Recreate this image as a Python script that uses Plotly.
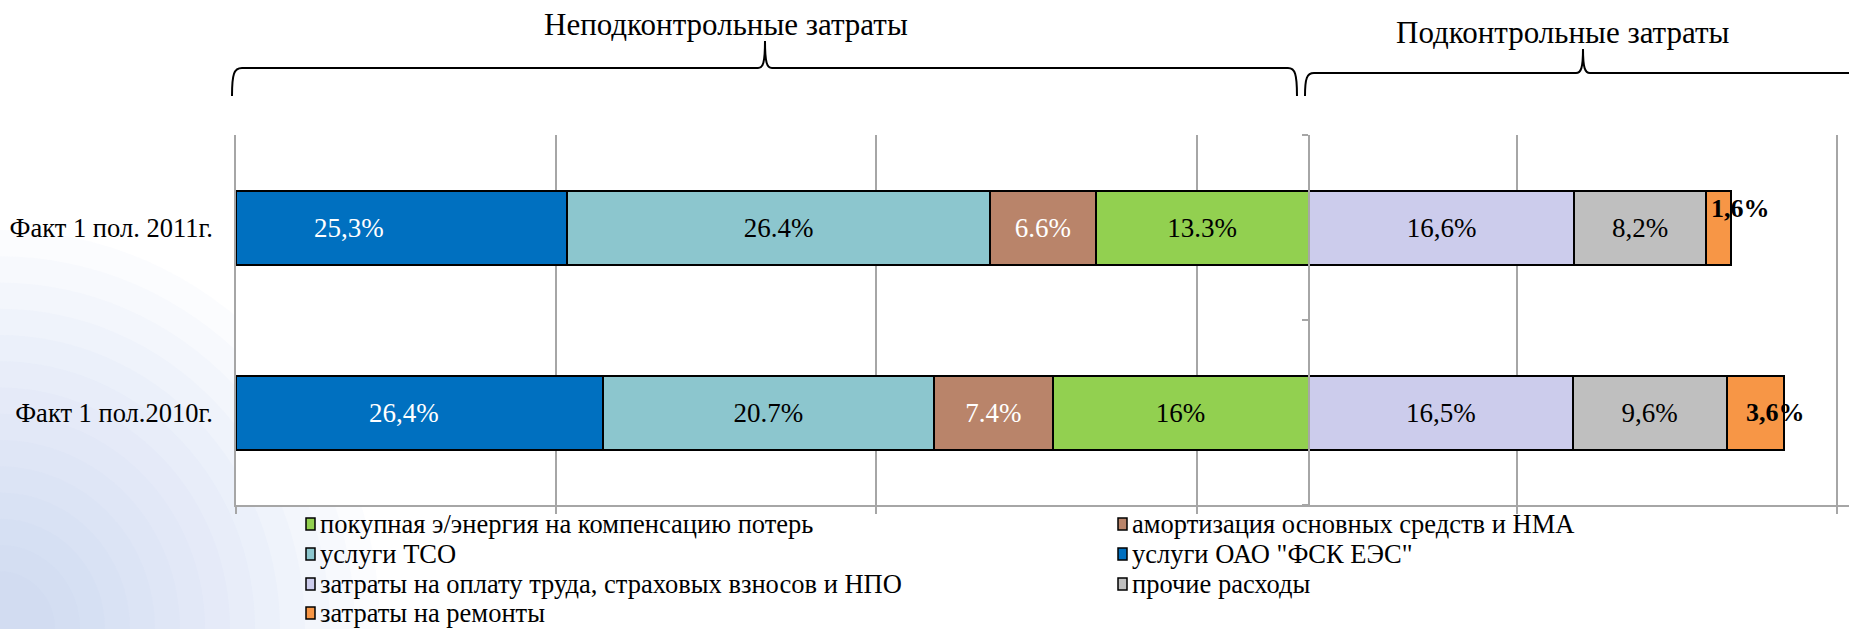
import plotly.graph_objects as go

# ---------------- data ----------------
categories = ["Факт 1 пол.2010г.", "Факт 1 пол. 2011г."]

fsk_name = 'услуги ОАО "ФСК ЕЭС"'
fsk_values = [22.9, 20.7]
fsk_labels = ["26,4%", "25,3%"]

tso_name = "услуги ТСО"
tso_values = [20.7, 26.4]
tso_labels = ["20.7%", "26.4%"]

amort_name = "амортизация основных средств и НМА"
amort_values = [7.4, 6.6]
amort_labels = ["7.4%", "6.6%"]

energy_name = "покупная э/энергия на компенсацию потерь"
energy_values = [16.0, 13.3]
energy_labels = ["16%", "13.3%"]

labor_name = "затраты на оплату труда, страховых взносов и НПО"
labor_values = [16.5, 16.6]
labor_labels = ["16,5%", "16,6%"]

other_name = "прочие расходы"
other_values = [9.6, 8.2]
other_labels = ["9,6%", "8,2%"]

repair_name = "затраты на ремонты"
repair_values = [3.6, 1.6]
repair_labels = ["3,6%", "1,6%"]

group_titles = ["Неподконтрольные затраты", "Подконтрольные затраты"]

# ---------------- layout constants ----------------
W, H = 1849, 629
PL, PR, PT, PB = 236, 1849, 135, 505
X_MAX = 100.75
FONT = "Liberation Serif"
GRID = "#A6A6A6"


def px(x):
    return (x - PL) / (PR - PL)


def py(y):
    return (PB - y) / (PB - PT)


fig = go.Figure()

colors = {
    fsk_name: "#0070C0", tso_name: "#8CC6CE", amort_name: "#B9846A",
    energy_name: "#92D050", labor_name: "#CCCCEC", other_name: "#BFBFBF",
    repair_name: "#F79646",
}
series = [
    (fsk_name, fsk_values, fsk_labels, "white"),
    (tso_name, tso_values, tso_labels, "black"),
    (amort_name, amort_values, amort_labels, "white"),
    (energy_name, energy_values, energy_labels, "black"),
    (labor_name, labor_values, labor_labels, "black"),
    (other_name, other_values, other_labels, "black"),
    (repair_name, repair_values, repair_labels, "black"),
]

for name, vals, labels, tcolor in series:
    own_label = name in (repair_name, fsk_name)
    fig.add_trace(go.Bar(
        y=categories, x=vals, orientation="h", name=name,
        width=0.4,
        marker=dict(color=colors[name], line=dict(color="black", width=2)),
        text=labels,
        textposition="none" if own_label else "inside",
        insidetextanchor="middle",
        textangle=0,
        constraintext="none",
        insidetextfont=dict(family=FONT, size=27, color=tcolor),
        showlegend=False,
        hoverinfo="x+name",
    ))

# labels of the "ФСК ЕЭС" segments (placed left of centre as in the original)
fsk_shift = [-15, -53]
for i, cat in enumerate(categories):
    fig.add_annotation(
        x=fsk_values[i] / 2, y=cat, xref="x", yref="y", text=fsk_labels[i],
        showarrow=False, xanchor="center", yanchor="middle", xshift=fsk_shift[i],
        font=dict(family=FONT, size=27, color="white"),
    )

# bold labels for the small "ремонты" segment
starts = [sum(s[1][i] for s in series[:-1]) for i in range(len(categories))]
shifts = [(17, 0), (3, 19)]
for i, cat in enumerate(categories):
    fig.add_annotation(
        x=starts[i], y=cat, xref="x", yref="y", text=repair_labels[i],
        showarrow=False, xanchor="left", yanchor="middle",
        xshift=shifts[i][0], yshift=shifts[i][1],
        font=dict(family=FONT, size=26, color="black", weight="bold"),
    )

# divider axis between the two groups
noncontrolled_total = fsk_values[0] + tso_values[0] + amort_values[0] + energy_values[0]
fig.add_trace(go.Scatter(x=[], y=[], yaxis="y2", showlegend=False, hoverinfo="skip"))

# ---------------- decorations ----------------
shapes = []
n_rings = 14
for k in range(n_rings):
    rx = 380 - k * 25
    ry = rx * 1.05
    shapes.append(dict(type="circle", xref="paper", yref="paper", layer="below",
                       x0=px(-rx), x1=px(rx), y0=py(H + ry), y1=py(H - ry),
                       line=dict(width=0), fillcolor="rgba(175,202,235,0.05)"))
shapes.append(dict(type="rect", xref="paper", yref="paper", layer="below",
                   x0=0, x1=1, y0=0, y1=1, line=dict(width=0), fillcolor="white"))


def path(points):
    cmds = []
    for cmd, pts in points:
        coords = " ".join(f"{px(x):.5f},{py(y):.5f}" for x, y in pts)
        cmds.append(f"{cmd} {coords}")
    return " ".join(cmds)


left_brace = path([
    ("M", [(232, 96)]),
    ("C", [(232, 74), (234, 68), (242, 68)]),
    ("L", [(758, 68)]),
    ("C", [(763, 68), (765, 63), (765, 41)]),
    ("C", [(765, 63), (767, 68), (772, 68)]),
    ("L", [(1288, 68)]),
    ("C", [(1295, 68), (1297, 74), (1297, 96)]),
])
right_brace = path([
    ("M", [(1305, 96)]),
    ("C", [(1305, 78), (1307, 73), (1314, 73)]),
    ("L", [(1576, 73)]),
    ("C", [(1581, 73), (1583, 68), (1583, 49)]),
    ("C", [(1583, 68), (1585, 73), (1590, 73)]),
    ("L", [(1860, 73)]),
])
for p in (left_brace, right_brace):
    shapes.append(dict(type="path", xref="paper", yref="paper", path=p,
                       line=dict(color="black", width=2)))

fig.add_annotation(x=px(726), y=py(25), xref="paper", yref="paper",
                   text=group_titles[0], showarrow=False,
                   xanchor="center", yanchor="middle",
                   font=dict(family=FONT, size=31, color="black"))
fig.add_annotation(x=px(1563), y=py(33), xref="paper", yref="paper",
                   text=group_titles[1], showarrow=False,
                   xanchor="center", yanchor="middle",
                   font=dict(family=FONT, size=31, color="black"))

# ---------------- legend (two columns, as in the original) ----------------
legend_columns = [
    [energy_name, tso_name, labor_name, repair_name],
    [amort_name, fsk_name, other_name],
]
col_x = [306, 1118]
row_y = [524, 554, 584, 613]
for c, names in enumerate(legend_columns):
    for r, name in enumerate(names):
        x0 = col_x[c]
        yc = row_y[r]
        shapes.append(dict(type="rect", xref="paper", yref="paper",
                           x0=px(x0), x1=px(x0 + 9), y0=py(yc + 6), y1=py(yc - 6),
                           fillcolor=colors[name], line=dict(color="black", width=1.5)))
        fig.add_annotation(x=px(x0 + 12), y=py(yc), xref="paper", yref="paper",
                           text=name, showarrow=False,
                           xanchor="left", yanchor="middle",
                           font=dict(family=FONT, size=26.5, color="black"))

fig.update_layout(
    width=W, height=H,
    margin=dict(l=PL, r=W - PR, t=PT, b=H - PB, autoexpand=False),
    paper_bgcolor="white", plot_bgcolor="rgba(0,0,0,0)",
    barmode="stack",
    showlegend=False,
    shapes=shapes,
    xaxis=dict(
        range=[0, X_MAX], tick0=0, dtick=20,
        showgrid=True, gridcolor=GRID, gridwidth=1.5,
        zeroline=False, showticklabels=False,
        ticks="outside", ticklen=7, tickcolor=GRID, tickwidth=1.5,
        showline=True, linecolor=GRID, linewidth=2,
    ),
    yaxis=dict(
        type="category", categoryorder="array", categoryarray=categories,
        range=[-0.5, 1.5], showgrid=False, zeroline=False,
        showline=True, linecolor=GRID, linewidth=1.5,
        ticks="", ticklabelstandoff=16,
        tickfont=dict(family=FONT, size=26.5, color="black"),
    ),
    yaxis2=dict(
        overlaying="y", anchor="free", side="left",
        position=noncontrolled_total / X_MAX,
        range=[-0.5, 1.5], tickvals=[-0.5, 0.5, 1.5],
        showticklabels=False, showgrid=False, zeroline=False,
        ticks="outside", ticklen=6, tickcolor=GRID, tickwidth=1.5,
        showline=True, linecolor=GRID, linewidth=2,
    ),
)

fig.write_html("out.html", config={"displayModeBar": False},
               post_script="document.body.style.margin='0';")
